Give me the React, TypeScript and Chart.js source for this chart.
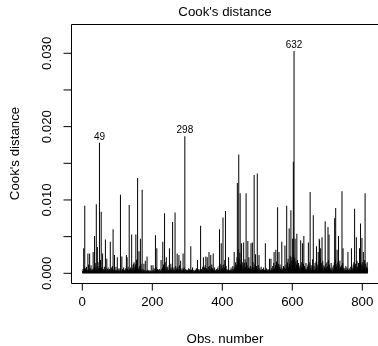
import React, { useEffect, useRef } from 'react';
import { Chart, registerables } from 'chart.js';

Chart.register(...registerables);

// Cook's distance per observation (1..815), in units of 1e-4
const cooksE4 = [
  3, 6, 2, 34, 5, 8, 92, 2, 7, 4, 2, 9, 3, 5, 1, 27, 4, 12, 2, 5,
  27, 3, 7, 2, 11, 4, 1, 6, 3, 5, 29, 4, 8, 2, 51, 6, 14, 3, 9, 94,
  6, 3, 36, 5, 15, 2, 7, 10, 178, 3, 6, 18, 2, 84, 8, 4, 1, 27, 5, 3,
  6, 2, 9, 4, 5, 46, 2, 7, 1, 20, 4, 6, 2, 8, 3, 5, 1, 6, 3, 43,
  5, 2, 8, 1, 6, 10, 3, 60, 4, 1, 6, 25, 2, 5, 2, 9, 3, 4, 1, 22,
  3, 6, 2, 4, 7, 1, 3, 5, 107, 2, 4, 1, 23, 3, 6, 2, 4, 8, 1, 3,
  5, 1, 4, 7, 2, 25, 3, 22, 6, 2, 9, 3, 4, 93, 6, 1, 4, 8, 2, 5,
  53, 3, 7, 2, 11, 13, 3, 15, 5, 9, 2, 12, 53, 4, 18, 6, 20, 130, 8, 3,
  6, 30, 4, 10, 2, 47, 7, 13, 3, 5, 114, 2, 6, 3, 4, 13, 1, 4, 2, 17,
  2, 4, 1, 3, 23, 2, 5, 1, 3, 4, 1, 2, 4, 1, 3, 2, 11, 1, 3, 4,
  1, 11, 2, 4, 7, 2, 3, 6, 52, 3, 8, 4, 34, 2, 6, 1, 4, 5, 2, 3,
  6, 2, 4, 1, 18, 3, 6, 2, 8, 43, 4, 12, 3, 7, 82, 5, 15, 2, 8, 22,
  3, 6, 2, 9, 4, 2, 5, 11, 34, 3, 7, 4, 13, 1, 5, 8, 3, 70, 6, 2,
  4, 8, 2, 5, 83, 3, 10, 2, 5, 7, 27, 4, 9, 2, 5, 25, 3, 11, 4, 6,
  17, 2, 5, 1, 7, 3, 4, 27, 6, 2, 8, 4, 187, 6, 2, 4, 1, 5, 3, 4,
  2, 5, 3, 7, 1, 4, 6, 2, 4, 37, 3, 5, 1, 3, 8, 2, 4, 1, 5, 2,
  3, 1, 5, 2, 4, 7, 2, 4, 18, 3, 5, 1, 6, 3, 2, 5, 4, 65, 2, 4,
  6, 2, 4, 9, 2, 22, 5, 3, 8, 1, 11, 4, 23, 3, 7, 4, 22, 5, 2, 9,
  4, 29, 3, 10, 6, 2, 25, 5, 8, 12, 3, 7, 4, 27, 5, 2, 4, 8, 2, 4,
  1, 5, 3, 6, 2, 4, 8, 2, 5, 3, 10, 60, 4, 13, 3, 7, 41, 5, 11, 4,
  7, 76, 5, 12, 3, 8, 18, 5, 85, 4, 10, 2, 6, 4, 2, 5, 3, 22, 5, 2,
  4, 1, 5, 3, 8, 2, 4, 6, 2, 10, 3, 5, 7, 29, 4, 9, 5, 15, 4, 12,
  8, 22, 123, 10, 33, 16, 162, 20, 7, 28, 109, 12, 6, 18, 41, 8, 15, 4, 11, 6,
  42, 7, 14, 4, 19, 9, 5, 109, 15, 3, 11, 6, 44, 4, 8, 22, 3, 7, 5, 10,
  4, 41, 6, 2, 9, 42, 5, 15, 3, 8, 134, 5, 12, 3, 26, 7, 4, 10, 5, 136,
  6, 3, 11, 4, 25, 2, 7, 4, 5, 2, 9, 3, 5, 1, 6, 3, 4, 8, 2, 4,
  5, 3, 41, 4, 2, 7, 3, 5, 1, 4, 6, 2, 4, 3, 20, 5, 2, 4, 20, 3,
  7, 2, 5, 10, 3, 6, 14, 29, 4, 8, 3, 11, 32, 5, 16, 4, 10, 90, 7, 13,
  5, 29, 9, 3, 12, 6, 2, 8, 4, 43, 5, 2, 7, 4, 10, 3, 5, 8, 38, 4,
  6, 12, 3, 92, 8, 15, 5, 20, 9, 4, 61, 13, 7, 24, 11, 86, 17, 5, 22, 10,
  47, 18, 152, 25, 303, 12, 21, 47, 8, 16, 5, 12, 54, 7, 18, 4, 10, 14, 5, 8,
  3, 11, 6, 45, 4, 9, 15, 4, 41, 8, 3, 13, 51, 5, 10, 2, 7, 4, 14, 3,
  6, 2, 9, 4, 12, 42, 5, 10, 3, 15, 111, 7, 3, 11, 5, 2, 8, 19, 4, 79,
  4, 10, 5, 3, 14, 7, 4, 16, 37, 5, 9, 3, 12, 29, 6, 15, 47, 45, 8, 21,
  34, 5, 14, 8, 49, 4, 17, 7, 3, 11, 5, 9, 2, 71, 6, 13, 4, 8, 15, 5,
  10, 63, 18, 7, 53, 12, 5, 8, 3, 6, 14, 3, 4, 8, 2, 5, 11, 4, 7, 15,
  75, 8, 19, 89, 13, 5, 10, 32, 4, 15, 7, 51, 6, 12, 4, 17, 5, 9, 3, 7,
  11, 112, 5, 14, 34, 4, 8, 5, 2, 7, 3, 5, 10, 2, 4, 8, 3, 6, 29, 4,
  5, 2, 7, 3, 5, 2, 9, 4, 34, 3, 6, 4, 8, 12, 5, 15, 7, 88, 10, 5,
  13, 7, 49, 4, 17, 9, 3, 6, 14, 5, 11, 34, 6, 16, 68, 8, 12, 5, 48, 15,
  6, 10, 29, 5, 14, 8, 18, 109, 6, 13, 4, 9, 5, 15, 7,
];
const COOK_UNIT = 1e-4;

// observations labelled in the plot (position, row name)
const labelledObs = [49, 293, 605];
const labelledNames = ['49', '298', '632'];

const xTickValues = [0, 200, 400, 600, 800];
const xTickLabels = ['0', '200', '400', '600', '800'];
const yTickValues = [0, 0.005, 0.01, 0.015, 0.02, 0.025, 0.03];
const yTickLabels = ['0.000', '', '0.010', '', '0.020', '', '0.030'];

const titleText = "Cook's distance";
const xTitleText = 'Obs. number';
const yTitleText = "Cook's distance";

const FONT = '"Liberation Sans", Arial, Helvetica, sans-serif';

export default function App() {
  const ref = useRef<HTMLCanvasElement>(null);

  useEffect(() => {
    document.body.style.margin = '0';
    const canvas = ref.current;
    if (!canvas) return;

    const points = cooksE4.map((v, i) => ({ x: i + 1, y: v * COOK_UNIT }));

    const overlay = {
      id: 'rOverlay',
      afterDraw(chart: any) {
        const { ctx, chartArea: a, scales } = chart;
        const xs = scales.x;
        const ys = scales.y;
        ctx.save();
        ctx.strokeStyle = '#000';
        ctx.fillStyle = '#000';
        ctx.lineWidth = 1;

        const L = Math.round(a.left) + 0.5;
        const T = Math.round(a.top) + 0.5;
        const B = Math.round(a.bottom) + 0.5;
        const R = a.right + 3;
        ctx.beginPath();
        ctx.moveTo(R, T);
        ctx.lineTo(L, T);
        ctx.lineTo(L, B);
        ctx.lineTo(R, B);
        ctx.stroke();

        // y ticks
        ctx.font = `13.3px ${FONT}`;
        yTickValues.forEach((v, i) => {
          const py = ys.getPixelForValue(v);
          ctx.beginPath();
          ctx.moveTo(L - 8, py);
          ctx.lineTo(L, py);
          ctx.stroke();
          const lab = yTickLabels[i];
          if (lab) {
            ctx.save();
            ctx.translate(47, py);
            ctx.rotate(-Math.PI / 2);
            ctx.textAlign = 'center';
            ctx.textBaseline = 'middle';
            ctx.fillText(lab, 0, 0);
            ctx.restore();
          }
        });

        // x ticks
        xTickValues.forEach((v, i) => {
          const px = xs.getPixelForValue(v);
          ctx.beginPath();
          ctx.moveTo(px, B);
          ctx.lineTo(px, B + 7);
          ctx.stroke();
          ctx.textAlign = 'center';
          ctx.textBaseline = 'middle';
          ctx.fillText(xTickLabels[i], px, 302);
        });

        // titles
        ctx.textAlign = 'center';
        ctx.textBaseline = 'middle';
        const cx = (a.left + a.right + 1) / 2;
        ctx.fillText(titleText, cx, 12);
        ctx.fillText(xTitleText, cx, 339);
        ctx.save();
        ctx.translate(15, (a.top + a.bottom) / 2);
        ctx.rotate(-Math.PI / 2);
        ctx.fillText(yTitleText, 0, 0);
        ctx.restore();

        // point labels
        ctx.font = `10px ${FONT}`;
        labelledObs.forEach((idx, i) => {
          const px = xs.getPixelForValue(idx);
          const py = ys.getPixelForValue(cooksE4[idx - 1] * COOK_UNIT);
          ctx.fillText(labelledNames[i], px, py - 6);
        });
        ctx.restore();
      },
    };

    const chart = new Chart(canvas, {
      type: 'bar',
      data: {
        datasets: [
          {
            data: points,
            backgroundColor: '#000',
            borderWidth: 0,
            barThickness: 1,
            inflateAmount: 0,
            grouped: false,
          } as any,
        ],
      },
      options: {
        animation: false,
        responsive: false,
        maintainAspectRatio: false,
        devicePixelRatio: 1,
        layout: { padding: { left: 71, top: 24, right: 0, bottom: 63 } },
        plugins: {
          legend: { display: false },
          tooltip: { enabled: false },
          title: { display: false },
        },
        scales: {
          x: { type: 'linear', display: false, offset: false, min: -32.3, max: 844.9, grid: { offset: false } },
          y: { type: 'linear', display: false, min: -0.001323, max: 0.033995 },
        },
      },
      plugins: [overlay],
    });

    return () => chart.destroy();
  }, []);

  return (
    <div style={{ position: 'absolute', left: 0, top: 0, width: 378, height: 346, background: '#fff' }}>
      <canvas ref={ref} width={378} height={346} style={{ display: 'block' }} />
    </div>
  );
}
